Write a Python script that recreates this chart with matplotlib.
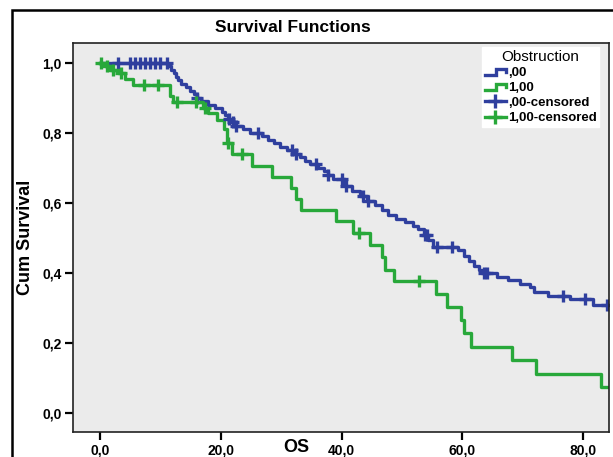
import numpy as np
import matplotlib
matplotlib.use("Agg")
import matplotlib.pyplot as plt
from matplotlib.lines import Line2D
from matplotlib.legend_handler import HandlerBase
from matplotlib.patches import Rectangle

# Kaplan-Meier steps: (time of drop, survival after drop)
blue_t = [11.3, 11.8, 12.3, 12.6, 12.9, 13.4, 14.2, 14.9, 15.6, 16.1, 16.7, 17.9,
          19.0, 20.2, 20.7, 21.2, 21.7, 22.4, 23.7, 24.8, 26.8, 27.8, 28.8, 29.8,
          31.0, 32.0, 33.1, 33.9, 34.8, 36.1, 37.1, 37.7, 38.6, 40.6, 41.7, 43.0,
          44.2, 45.5, 46.7, 47.7, 49.0, 50.5, 51.8, 52.6, 53.6, 54.3, 55.1, 59.3,
          60.3, 61.1, 61.9, 62.7, 63.6, 65.7, 67.5, 69.5, 71.2, 71.9, 74.2, 77.8,
          81.6]
blue_s = [0.99, 0.98, 0.97, 0.96, 0.95, 0.94, 0.93, 0.92, 0.91, 0.90, 0.89, 0.88,
          0.87, 0.86, 0.85, 0.84, 0.83, 0.82, 0.81, 0.80, 0.79, 0.78, 0.77, 0.76,
          0.75, 0.74, 0.73, 0.72, 0.71, 0.70, 0.69, 0.68, 0.67, 0.65, 0.635, 0.62,
          0.605, 0.595, 0.58, 0.565, 0.555, 0.545, 0.535, 0.525, 0.51, 0.495, 0.475, 0.465,
          0.45, 0.435, 0.42, 0.41, 0.40, 0.39, 0.38, 0.37, 0.36, 0.345, 0.335, 0.325,
          0.31]
blue_cens = [3.0, 5.0, 5.8, 6.6, 7.5, 8.3, 9.1, 9.9, 11.0, 16.1, 21.3, 22.0, 22.5,
             26.2, 31.8, 32.5, 35.8, 37.7, 40.0, 40.8, 43.5, 44.3, 53.8, 54.1, 55.8,
             58.3, 63.6, 64.1, 76.6, 80.3, 83.9]
blue_end = 84.3

green_t = [0.8, 1.7, 3.0, 4.1, 5.5, 11.6, 12.1, 17.0, 17.8, 19.3, 20.5, 21.0, 21.8,
           25.2, 28.5, 31.6, 32.5, 33.3, 39.1, 41.9, 44.7, 46.7, 47.2, 48.7, 55.6,
           57.5, 59.8, 60.3, 61.4, 68.2, 72.2, 82.9]
green_s = [0.99, 0.98, 0.97, 0.955, 0.937, 0.905, 0.889, 0.872, 0.857, 0.837, 0.81,
           0.771, 0.74, 0.705, 0.674, 0.643, 0.612, 0.58, 0.548, 0.515, 0.48, 0.446,
           0.41, 0.377, 0.34, 0.303, 0.265, 0.229, 0.189, 0.151, 0.111, 0.074]
green_cens = [0.2, 1.2, 2.2, 3.5, 7.3, 9.6, 12.8, 15.9, 17.4, 21.2, 23.5, 42.9, 52.8]
green_end = 84.3

yticks = [0.0, 0.2, 0.4, 0.6, 0.8, 1.0]
xticks = [0, 20, 40, 60, 80]
legend_labels = [",00", "1,00", ",00-censored", "1,00-censored"]

BLUE = "#2f3f9e"
GREEN = "#28a83a"
FONT = "Liberation Sans"


def step_xy(t, s, end):
    x = np.concatenate([[0.0], t, [end]])
    y = np.concatenate([[1.0], s, [s[-1]]])
    return x, y


def surv_at(t, s, times):
    idx = np.searchsorted(t, times, side="right")
    vals = np.concatenate([[1.0], s])
    return vals[idx]


class StepHandler(HandlerBase):
    def create_artists(self, legend, orig_handle, xdescent, ydescent,
                       width, height, fontsize, trans):
        x0, w, h = -xdescent, width, height
        lo, hi = -ydescent + 0.1 * h, -ydescent + 0.75 * h
        xs = [x0, x0 + 0.55 * w, x0 + 0.55 * w, x0 + w, x0 + w]
        ys = [lo, lo, hi, hi, hi - 0.3 * h]
        ln = Line2D(xs, ys, color=orig_handle.get_color(), lw=2.4,
                    solid_joinstyle="miter", transform=trans)
        return [ln]


fig = plt.figure(figsize=(6.13, 4.57), dpi=100)
fig.patch.set_facecolor("white")

# outer chart frame
fig.add_artist(Rectangle((12 / 613, -0.2), 1.2, 0.2 + 1 - 10 / 457,
                         transform=fig.transFigure, fill=False,
                         edgecolor="black", lw=1.8))

ax = fig.add_axes([73 / 613, 25 / 457, 536 / 613, 389 / 457])
ax.set_facecolor("#ebebeb")

bx, by = step_xy(np.array(blue_t), np.array(blue_s), blue_end)
gx, gy = step_xy(np.array(green_t), np.array(green_s), green_end)
ax.step(bx, by, where="post", color=BLUE, lw=2.4)
ax.step(gx, gy, where="post", color=GREEN, lw=2.4)

ax.plot(blue_cens, surv_at(np.array(blue_t), np.array(blue_s), blue_cens),
        ls="none", marker="+", ms=8, mew=2.4, color=BLUE)
ax.plot(green_cens, surv_at(np.array(green_t), np.array(green_s), green_cens),
        ls="none", marker="+", ms=8, mew=2.4, color=GREEN)

ax.set_xlim(-4.5, 84.3)
ax.set_ylim(-0.054, 1.057)
ax.set_xticks(xticks)
ax.set_yticks(yticks)
ax.set_xticklabels([f"{v:.1f}".replace(".", ",") for v in xticks],
                   fontsize=10, fontweight="bold", family=FONT)
ax.set_yticklabels([f"{v:.1f}".replace(".", ",") for v in yticks],
                   fontsize=10, fontweight="bold", family=FONT)
ax.tick_params(direction="out", length=6, width=1.6, pad=2, color="black")
for sp in ax.spines.values():
    sp.set_linewidth(1.2)
    sp.set_color("#222222")

ax.set_ylabel("Cum Survival", fontsize=13, fontweight="bold",
              family=FONT, labelpad=6)
fig.text(296 / 613, 1 - 448 / 457, "OS", ha="center", va="center",
         fontsize=13, fontweight="bold", family=FONT)
fig.text(293 / 613, 1 - 27 / 457, "Survival Functions", ha="center", va="center",
         fontsize=12.5, fontweight="bold", family=FONT)

h_blue = Line2D([], [], color=BLUE)
h_green = Line2D([], [], color=GREEN)
h_bc = Line2D([], [], color=BLUE, lw=2.4, marker="+", ms=10, mew=2.4)
h_gc = Line2D([], [], color=GREEN, lw=2.4, marker="+", ms=10, mew=2.4)
leg = fig.legend([h_blue, h_green, h_bc, h_gc], legend_labels,
                 title="Obstruction", loc="upper left",
                 bbox_to_anchor=(482 / 613, 1 - 47 / 457),
                 handler_map={h_blue: StepHandler(), h_green: StepHandler()},
                 frameon=True, fancybox=False, edgecolor="white",
                 facecolor="white", framealpha=1, borderpad=0.2,
                 labelspacing=0.22, handlelength=1.6, handletextpad=0.15,
                 borderaxespad=0, numpoints=1,
                 prop={"family": FONT, "weight": "bold", "size": 9.5},
                 title_fontproperties={"family": FONT, "size": 11})

fig.savefig("out.png", dpi=100)
